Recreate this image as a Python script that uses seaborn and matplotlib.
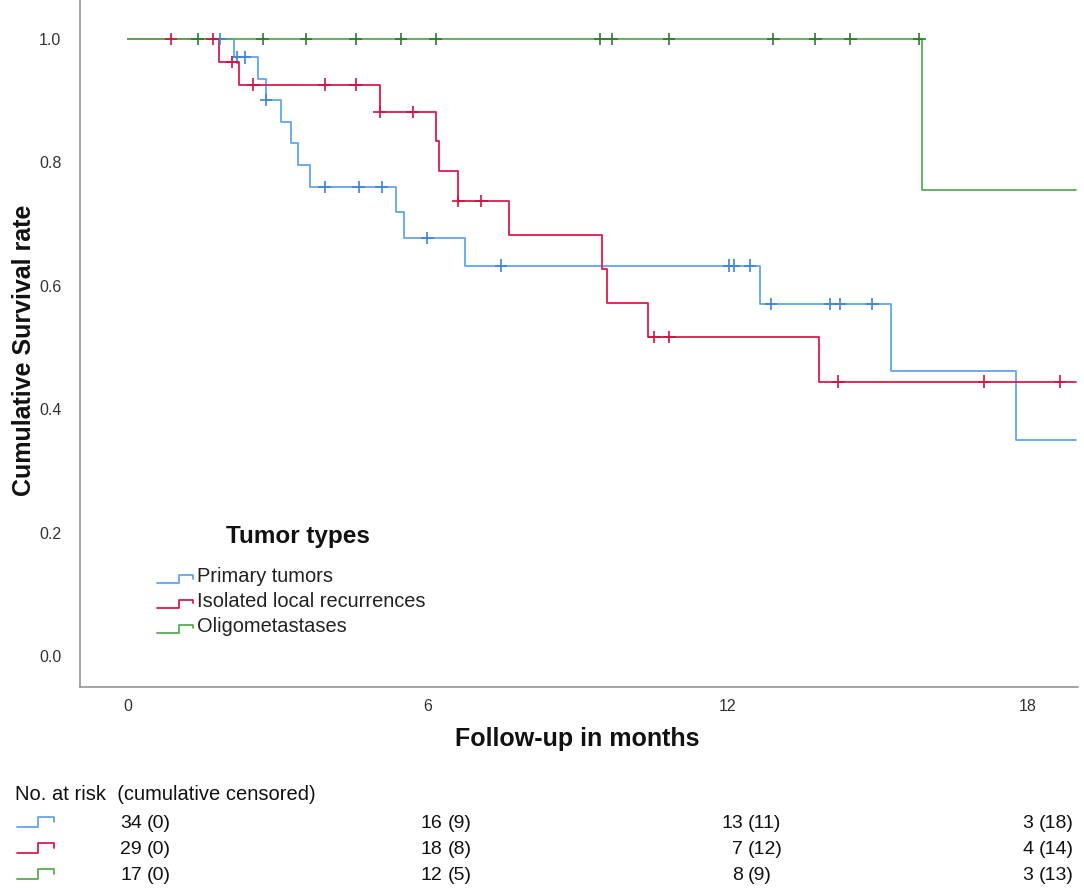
import numpy as np
import pandas as pd
import matplotlib
matplotlib.use("Agg")
import matplotlib.pyplot as plt
import seaborn as sns
from matplotlib.lines import Line2D
from matplotlib.legend_handler import HandlerBase
from matplotlib.transforms import blended_transform_factory, offset_copy

# --- data ------------------------------------------------------------------
groups = ["Primary tumors", "Isolated local recurrences", "Oligometastases"]

primary_event_t = [2.12, 2.59, 2.76, 3.06, 3.25, 3.40, 3.64, 5.36, 5.52, 6.75, 12.65, 15.26, 17.76]
primary_surv = [0.970, 0.935, 0.901, 0.866, 0.831, 0.796, 0.760, 0.720, 0.678, 0.633, 0.571, 0.462, 0.350]
primary_cens = [1.84, 2.18, 2.34, 2.76, 3.93, 4.61, 5.07, 5.99, 7.46, 12.02, 12.12, 12.44,
                12.86, 14.04, 14.24, 14.89]

local_event_t = [1.81, 2.21, 5.03, 6.15, 6.22, 6.61, 7.63, 9.47, 9.57, 10.41, 13.82]
local_surv = [0.963, 0.926, 0.882, 0.834, 0.786, 0.738, 0.683, 0.627, 0.572, 0.517, 0.445]
local_cens = [0.86, 1.69, 2.09, 2.51, 3.93, 4.55, 5.03, 5.69, 6.61, 7.07, 10.53, 10.83,
              14.21, 17.13, 18.64]

oligo_event_t = [15.89]
oligo_surv = [0.755]
oligo_cens = [1.39, 2.69, 3.56, 4.55, 5.46, 6.15, 9.44, 9.67, 10.82, 12.91, 13.75, 14.45, 15.83]

last_followup = 18.96

x_ticks = [0, 6, 12, 18]
y_ticks = [0.0, 0.2, 0.4, 0.6, 0.8, 1.0]

risk_primary = [34, 16, 13, 3]
cens_primary = [0, 9, 11, 18]
risk_local = [29, 18, 7, 4]
cens_local = [0, 8, 12, 14]
risk_oligo = [17, 12, 8, 3]
cens_oligo = [0, 5, 9, 13]

line_colors = {"Primary tumors": "#62a6ee",
               "Isolated local recurrences": "#e2194b",
               "Oligometastases": "#58ad52"}
mark_colors = {"Primary tumors": "#3a84da",
               "Isolated local recurrences": "#d3123f",
               "Oligometastases": "#2d7a2a"}

# --- build tidy frames -------------------------------------------------------
series = {
    "Primary tumors": (primary_event_t, primary_surv, primary_cens),
    "Isolated local recurrences": (local_event_t, local_surv, local_cens),
    "Oligometastases": (oligo_event_t, oligo_surv, oligo_cens),
}

step_rows = []
cens_rows = []
for g, (et, sv, cs) in series.items():
    times = [0.0] + list(et) + [last_followup]
    levels = [1.0] + list(sv) + [sv[-1]]
    for t, s in zip(times, levels):
        step_rows.append((g, t, s))
    for c in cs:
        idx = np.searchsorted(times, c, side="right") - 1
        cens_rows.append((g, c, levels[idx]))

steps = pd.DataFrame(step_rows, columns=["group", "time", "surv"])
censored = pd.DataFrame(cens_rows, columns=["group", "time", "surv"])

# --- figure ---------------------------------------------------------------------
W, H = 1084, 889
sns.set_style("white")
plt.rcParams["font.family"] = ["Liberation Sans", "DejaVu Sans"]

fig = plt.figure(figsize=(W / 100, H / 100), dpi=100)
ax = fig.add_axes([80 / W, 1 - 687 / H, (1078 - 80) / W, 687 / H])

sns.lineplot(data=steps, x="time", y="surv", hue="group", hue_order=groups,
             palette=line_colors, drawstyle="steps-post", estimator=None,
             sort=False, linewidth=1.3, legend=False, ax=ax)
sns.scatterplot(data=censored, x="time", y="surv", hue="group", hue_order=groups,
                palette=mark_colors, marker="+", s=80, linewidth=1.2,
                legend=False, ax=ax, zorder=3)

ax.set_xlim(-0.96, 19.0)
ax.set_ylim(-0.0494, 1.063)
ax.set_xticks(x_ticks)
ax.set_yticks(y_ticks)
ax.set_yticklabels([f"{v:.1f}" for v in y_ticks])
ax.set_xlabel("")
ax.set_ylabel("")
ax.tick_params(axis="x", length=0, pad=8.6, labelsize=11.5, labelcolor="#333333")
ax.tick_params(axis="y", length=0, pad=13.5, labelsize=11.5, labelcolor="#333333")
sns.despine(ax=ax, top=True, right=True)
for side in ["left", "bottom"]:
    ax.spines[side].set_color("#8c8c8c")
    ax.spines[side].set_linewidth(1.1)

fig.text(24.5 / W, 1 - 350 / H, "Cumulative Survival rate", rotation=90,
         ha="center", va="center", fontsize=18, fontweight="bold", color="#111111")
fig.text(577 / W, 1 - 739 / H, "Follow-up in months", ha="center", va="center",
         fontsize=18, fontweight="bold", color="#111111")


# --- legend with step shaped handles ----------------------------------------
class StepHandler(HandlerBase):
    def create_artists(self, legend, orig_handle, xdescent, ydescent, width, height,
                       fontsize, trans):
        xs = np.array([0, 0.62, 0.62, 1.0, 1.0]) * width - xdescent
        ys = np.array([-0.08, -0.08, 0.5, 0.5, 0.25]) * height - ydescent
        ln = Line2D(xs, ys, color=orig_handle.get_color(), lw=1.3)
        ln.set_transform(trans)
        return [ln]


handles = [Line2D([], [], color=line_colors[g]) for g in groups]
fig.text(298 / W, 1 - 536.5 / H, "Tumor types", ha="center", va="center",
         fontsize=17.5, fontweight="bold", color="#111111")
fig.legend(handles, groups, handler_map={Line2D: StepHandler()},
           loc="upper left", bbox_to_anchor=(157 / W, 1 - 567 / H),
           frameon=False, fontsize=14.4, handlelength=1.8, handletextpad=0.2,
           labelspacing=0.29, borderpad=0, borderaxespad=0,
           labelcolor="#222222")


# --- number at risk table -------------------------------------------------------
def step_glyph(x0, yc, color, w=37, h=10):
    xs = x0 + np.array([0, 0.58, 0.58, 1.0, 1.0]) * w
    ys = yc + np.array([0.35, 0.35, -0.65, -0.65, -0.1]) * h
    fig.add_artist(Line2D(xs / W, 1 - ys / H, color=color, lw=1.3,
                          transform=fig.transFigure))


table_font = ["Liberation Sans Narrow", "Liberation Sans", "DejaVu Sans"]
fig.text(15 / W, 1 - 795 / H, "No. at risk  (cumulative censored)", ha="left",
         va="center", fontsize=14.5, family=table_font, color="#111111")

col_offsets = [0.28, 0.29, 0.30, 0.11]
row_y = [823, 849, 875]
tr = blended_transform_factory(ax.transData, fig.transFigure)
tr_paren = offset_copy(tr, fig=fig, x=5, y=0, units="dots")
rows = [(risk_primary, cens_primary), (risk_local, cens_local), (risk_oligo, cens_oligo)]
for g, (risk, cens), yy in zip(groups, rows, row_y):
    step_glyph(17, yy, line_colors[g])
    for tk, off, n, c in zip(x_ticks, col_offsets, risk, cens):
        fig.text(tk + off, 1 - yy / H, f"{n}", transform=tr, ha="right", va="center",
                 fontsize=14, family=table_font, color="#111111")
        fig.text(tk + off, 1 - yy / H, f"({c})", transform=tr_paren, ha="left",
                 va="center", fontsize=14, family=table_font, color="#111111")

fig.savefig("out.png", dpi=100)
